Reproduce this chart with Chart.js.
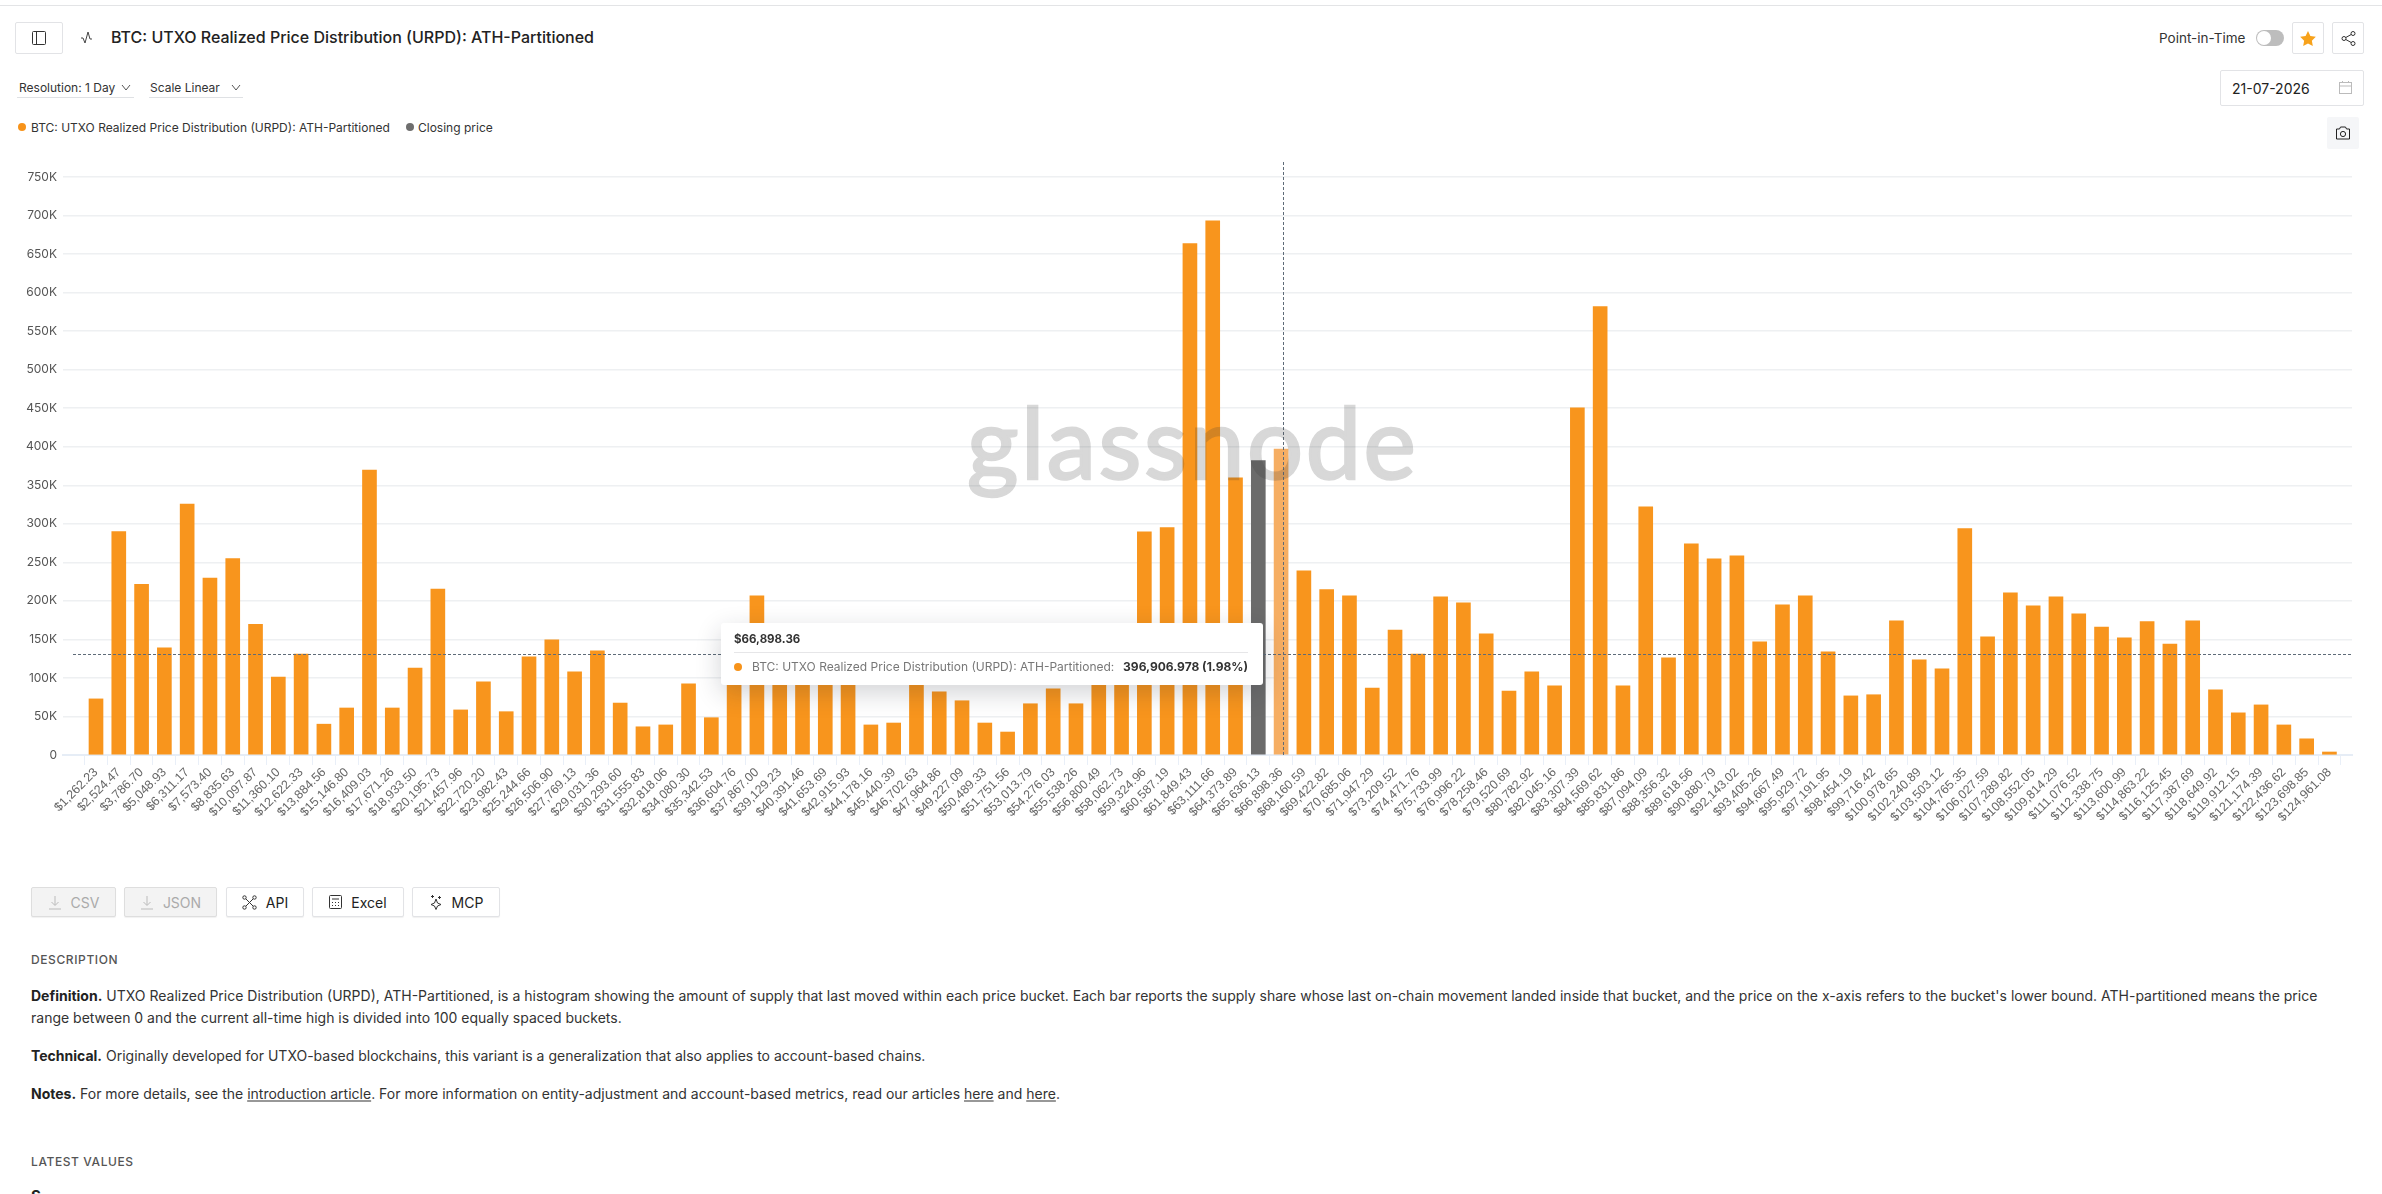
<!DOCTYPE html>
<html>
<head>
<meta charset="utf-8">
<title>BTC: UTXO Realized Price Distribution (URPD): ATH-Partitioned</title>
<script src="https://cdn.jsdelivr.net/npm/chart.js@4/dist/chart.umd.min.js"></script>
<style>
  html, body { margin: 0; padding: 0; background: #fff; overflow: hidden; }
  body { width: 2382px; height: 1194px; position: relative; font-family: Inter, sans-serif; color: #222; }
  .abs { position: absolute; white-space: nowrap; }
  .box { position: absolute; box-sizing: border-box; border: 1px solid #e2e3e6; border-radius: 2px; background: #fff; display: flex; align-items: center; justify-content: center; }
  .box svg { display: block; }
  .btn { top: 887px; height: 30px; font-size: 14px; gap: 9px; color: #222; box-shadow: 0 1px 1px rgba(0,0,0,.06); }
  .btn.off { background: #f3f3f3; color: #aaa; border-color: #dedede; }
  .dd { font-size: 12px; color: #333; transform: translateY(-50%); }
  .line { height: 1px; background: #dfe1e4; }
  .chev { position: absolute; }
  .legend { font-size: 12px; color: #333; transform: translateY(-50%); }
  .dot { position: absolute; width: 8px; height: 8px; border-radius: 50%; }
  .head { font-size: 12px; letter-spacing: .6px; color: #555; font-weight: 500; transform: translateY(-50%); }
  .para { font-size: 14px; color: #333; left: 31px; transform: translateY(-50%); }
  .para b { font-weight: 700; color: #222; }
  .para u { text-underline-offset: 2px; }
  #wrap { position: absolute; left: 0; top: 140px; width: 2382px; height: 715px; }
  #mark { position: absolute; left: 967px; top: 381px; font-family: Lato, sans-serif; font-size: 99px; line-height: 120px; letter-spacing: 2.5px; color: #3c3c3c; -webkit-text-stroke: 2.5px #3c3c3c; opacity: .2; pointer-events: none; }
  #tip { position: absolute; left: 721px; top: 623px; width: 542px; height: 62px; background: #fff; border-radius: 3px; box-shadow: 0 8px 26px rgba(30,35,50,.2); }
  #tipTitle { position: absolute; left: 13px; top: 16px; line-height: 0; font-size: 11.5px; font-weight: 700; color: #333; }
  #tipRule { position: absolute; left: 13px; right: 15px; top: 29px; height: 1px; background: #e6e6e8; }
  #tipName { position: absolute; left: 31px; top: 44px; line-height: 0; font-size: 12px; color: #777; white-space: nowrap; }
  #tipValue { position: absolute; right: 15px; top: 44px; line-height: 0; font-size: 12px; font-weight: 700; color: #333; white-space: nowrap; }
</style>
</head>
<body>

<div class="abs" style="left:0;top:5px;width:2382px;height:1px;background:#e3e4e6"></div>

<!-- header row -->
<div class="box" style="left:15px;top:22px;width:48px;height:32px">
  <svg width="14" height="14" viewBox="0 0 14 14" fill="none" stroke="#333"><rect x=".5" y=".5" width="13" height="13" rx="1"/><path d="M4.5 .5v13"/></svg>
</div>
<svg class="abs" style="left:80px;top:30px" width="15" height="15" viewBox="0 0 15 15" fill="none" stroke="#444"><path d="M1 8h2l2 5 3-11 2 7h2"/></svg>
<div class="abs" id="title" style="left:111px;top:37px;transform:translateY(-50%);font-size:16px;font-weight:500;color:#222">BTC: UTXO Realized Price Distribution (URPD): ATH-Partitioned</div>

<div class="abs" style="left:2159px;top:38px;transform:translateY(-50%);font-size:13.5px;color:#333">Point-in-Time</div>
<div class="abs" style="left:2256px;top:30px;width:28px;height:16px;border-radius:8px;background:#bdbdbd"></div>
<div class="abs" style="left:2257px;top:31px;width:14px;height:14px;border-radius:50%;background:#fff"></div>
<div class="box" style="left:2292px;top:22px;width:32px;height:32px">
  <svg width="16" height="15" viewBox="0 0 24 23" fill="#f7a21b"><path d="M12 0l3.7 7.8 8.3 1.1-6.1 5.9 1.5 8.2L12 19l-7.4 4 1.5-8.2L0 8.9l8.3-1.1z"/></svg>
</div>
<div class="box" style="left:2332px;top:22px;width:32px;height:32px">
  <svg width="15" height="15" viewBox="0 0 15 15" fill="none" stroke="#333"><circle cx="3" cy="7.5" r="2"/><circle cx="12" cy="2.5" r="2"/><circle cx="12" cy="12.5" r="2"/><path d="M4.8 6.5l5.4-3M4.8 8.5l5.4 3"/></svg>
</div>

<!-- controls -->
<div class="abs dd" style="left:19px;top:87px">Resolution: 1 Day</div>
<svg class="chev" style="left:121px;top:84px" width="10" height="7" viewBox="0 0 10 7" fill="none" stroke="#555"><path d="M1 1l4 5 4-5"/></svg>
<div class="abs line" style="left:17px;top:97px;width:117px"></div>
<div class="abs dd" style="left:150px;top:87px">Scale Linear</div>
<svg class="chev" style="left:231px;top:84px" width="10" height="7" viewBox="0 0 10 7" fill="none" stroke="#555"><path d="M1 1l4 5 4-5"/></svg>
<div class="abs line" style="left:149px;top:97px;width:94px"></div>

<div class="box" style="left:2220px;top:70px;width:144px;height:36px;justify-content:flex-start;padding-left:11px;font-size:14px;color:#222">21-07-2026</div>
<svg class="abs" style="left:2339px;top:81px" width="13" height="13" viewBox="0 0 13 13" fill="none" stroke="#bbb"><rect x=".5" y="1.5" width="12" height="11"/><path d="M.5 5h12M3.5 0v2M9.5 0v2"/></svg>
<div class="abs" style="left:2327px;top:117px;width:32px;height:32px;background:#f5f6f8;border-radius:2px"></div>
<svg class="abs" style="left:2336px;top:126px" width="14" height="14" viewBox="0 0 14 14" fill="none" stroke="#222"><path d="M.5 3h3l1-2h5l1 2h3v10H.5z"/><circle cx="7" cy="8" r="2.6"/></svg>

<!-- legend -->
<div class="dot" style="left:18px;top:123px;background:#f7931a"></div>
<div class="abs legend" style="left:31px;top:127px">BTC: UTXO Realized Price Distribution (URPD): ATH-Partitioned</div>
<div class="dot" style="left:406px;top:123px;background:#6e6e6e"></div>
<div class="abs legend" style="left:418px;top:127px">Closing price</div>

<div id="wrap"><canvas id="urpd"></canvas></div>

<div id="mark">glassnode</div>

<div id="tip">
  <div id="tipTitle"></div>
  <div id="tipRule"></div>
  <div class="dot" style="left:13px;top:40px;background:#f7931a"></div>
  <div id="tipName">BTC: UTXO Realized Price Distribution (URPD): ATH-Partitioned:</div>
  <div id="tipValue"></div>
</div>

<!-- export buttons -->
<div class="box btn off" style="left:31px;width:85px">
  <svg width="14" height="15" viewBox="0 0 14 15" fill="none" stroke="#bbb"><path d="M7 1v9M3.5 7L7 10.500 10.500 7M1 14h12"/></svg>CSV</div>
<div class="box btn off" style="left:124px;width:93px">
  <svg width="14" height="15" viewBox="0 0 14 15" fill="none" stroke="#bbb"><path d="M7 1v9M3.5 7L7 10.500 10.500 7M1 14h12"/></svg>JSON</div>
<div class="box btn" style="left:226px;width:78px">
  <svg width="15" height="15" viewBox="0 0 15 15" fill="none" stroke="#333"><circle cx="2.500" cy="2.500" r="1.700"/><circle cx="12.500" cy="2.500" r="1.700"/><circle cx="2.500" cy="12.500" r="1.700"/><circle cx="12.500" cy="12.500" r="1.700"/><path d="M4 4l7 7M11 4l-7 7"/></svg>API</div>
<div class="box btn" style="left:312px;width:92px">
  <svg width="13" height="14" viewBox="0 0 13 14" fill="none" stroke="#333"><rect x=".5" y=".5" width="12" height="13" rx="1"/><path d="M3 4h7M3 7.500h1M6 7.500h1M9 7.500h1M3 10.500h1M6 10.500h1M9 10.500h1"/></svg>Excel</div>
<div class="box btn" style="left:412px;width:88px">
  <svg width="14" height="16" viewBox="0 0 14 16" fill="none" stroke="#333"><path d="M7 5l1.500 4L12 10.500 8.500 12 7 15.500 5.500 12 2 10.500 5.500 9zM3.500 1v3M2 2.500h3M10.500 2v3M9 3.500h3"/></svg>MCP</div>

<!-- description -->
<div class="abs head" style="left:31px;top:959px">DESCRIPTION</div>
<div class="abs para" style="top:995px"><b>Definition.</b> UTXO Realized Price Distribution (URPD), ATH-Partitioned, is a histogram showing the amount of supply that last moved within each price bucket. Each bar reports the supply share whose last on-chain movement landed inside that bucket, and the price on the x-axis refers to the bucket's lower bound. ATH-partitioned means the price</div>
<div class="abs para" style="top:1017px">range between 0 and the current all-time high is divided into 100 equally spaced buckets.</div>
<div class="abs para" style="top:1055px"><b>Technical.</b> Originally developed for UTXO-based blockchains, this variant is a generalization that also applies to account-based chains.</div>
<div class="abs para" style="top:1093px"><b>Notes.</b> For more details, see the <u>introduction article</u>. For more information on entity-adjustment and account-based metrics, read our articles <u>here</u> and <u>here</u>.</div>
<div class="abs head" style="left:31px;top:1161px">LATEST VALUES</div>
<div class="abs" style="left:31px;top:1186px;font-size:15px;font-weight:700;color:#222">S</div>

<script>
// lower bound of each price bucket
const priceLabels = [
  "$1,262.23","$2,524.47","$3,786.70","$5,048.93","$6,311.17","$7,573.40","$8,835.63","$10,097.87","$11,360.10","$12,622.33",
  "$13,884.56","$15,146.80","$16,409.03","$17,671.26","$18,933.50","$20,195.73","$21,457.96","$22,720.20","$23,982.43","$25,244.66",
  "$26,506.90","$27,769.13","$29,031.36","$30,293.60","$31,555.83","$32,818.06","$34,080.30","$35,342.53","$36,604.76","$37,867.00",
  "$39,129.23","$40,391.46","$41,653.69","$42,915.93","$44,178.16","$45,440.39","$46,702.63","$47,964.86","$49,227.09","$50,489.33",
  "$51,751.56","$53,013.79","$54,276.03","$55,538.26","$56,800.49","$58,062.73","$59,324.96","$60,587.19","$61,849.43","$63,111.66",
  "$64,373.89","$65,636.13","$66,898.36","$68,160.59","$69,422.82","$70,685.06","$71,947.29","$73,209.52","$74,471.76","$75,733.99",
  "$76,996.22","$78,258.46","$79,520.69","$80,782.92","$82,045.16","$83,307.39","$84,569.62","$85,831.86","$87,094.09","$88,356.32",
  "$89,618.56","$90,880.79","$92,143.02","$93,405.26","$94,667.49","$95,929.72","$97,191.95","$98,454.19","$99,716.42","$100,978.65",
  "$102,240.89","$103,503.12","$104,765.35","$106,027.59","$107,289.82","$108,552.05","$109,814.29","$111,076.52","$112,338.75","$113,600.99",
  "$114,863.22","$116,125.45","$117,387.69","$118,649.92","$119,912.15","$121,174.39","$122,436.62","$123,698.85","$124,961.08"
];

// supply per bucket, BTC
const supply = [
  72800,290000,221500,139000,325600,229700,255000,169700,101000,130800,
  40000,61000,369700,61000,112800,215400,58500,94800,56200,127500,
  149500,108000,135300,67400,36600,39000,92300,48400,110000,206700,
  130000,115000,125000,105000,39000,41500,105000,82000,70400,41500,
  29800,66500,86000,66500,110000,115000,289700,295000,663500,693300,
  359600,382000,396906.978,239000,214500,206700,87000,162200,131000,205200,
  197400,157300,83000,108000,89900,450500,582000,89900,322000,126000,
  274000,254600,258500,147000,195000,206700,133900,76700,78200,174000,
  123600,111900,293700,153400,210600,193500,205200,183200,166100,152000,
  173000,144000,174000,84500,54700,65000,39000,21000,3900
];

const yTicks = [0,50000,100000,150000,200000,250000,300000,350000,400000,450000,500000,550000,600000,650000,700000,750000];

const closingIndex = 51;
const hoverIndex = 52;
const hoverShare = "1.98%";
const crosshairValue = 131000;

const barColors = supply.map((_, i) => {
  if (i === closingIndex) return "#6b6b6b";
  if (i === hoverIndex) return "#f6ae63";
  return "#f8951d";
});

// dashed crosshair through the hovered bucket
const crosshair = {
  id: "crosshair",
  afterDatasetsDraw(chart) {
    const { ctx, chartArea, scales } = chart;
    const x = Math.round(scales.x.getPixelForValue(hoverIndex + 0.08)) + 0.5;
    const y = Math.round(scales.y.getPixelForValue(crosshairValue)) + 0.5;
    ctx.save();
    ctx.strokeStyle = "#5e6b78";
    ctx.lineWidth = 1;
    ctx.setLineDash([3, 2]);
    ctx.beginPath();
    ctx.moveTo(x, chartArea.top);
    ctx.lineTo(x, chartArea.bottom);
    ctx.moveTo(chartArea.left + 10, y);
    ctx.lineTo(chartArea.right, y);
    ctx.stroke();
    ctx.restore();
  }
};

new Chart(document.getElementById("urpd"), {
  type: "bar",
  data: {
    datasets: [{
      data: supply.map((v, i) => ({ x: i, y: v })),
      backgroundColor: barColors,
      barThickness: 14
    }]
  },
  options: {
    responsive: true,
    maintainAspectRatio: false,
    animation: false,
    events: [],
    layout: { padding: { top: 22, right: 30, left: 0, bottom: 0 } },
    plugins: { legend: { display: false }, tooltip: { enabled: false } },
    scales: {
      x: {
        type: "linear",
        offset: false,
        min: -1.448,
        max: 98.99,
        afterBuildTicks: axis => { axis.ticks = priceLabels.map((_, i) => ({ value: i })); },
        afterFit: axis => { axis.height = 100; },
        grid: { drawOnChartArea: false, drawTicks: true, tickLength: 10, color: "#e9eff8" },
        border: { color: "#e6edf6", width: 2 },
        ticks: {
          autoSkip: false,
          minRotation: 45,
          maxRotation: 45,
          padding: 0,
          color: "#666",
          font: { family: "'Liberation Sans'", size: 12.5 },
          callback: v => priceLabels[v]
        }
      },
      y: {
        min: 0,
        max: 769500,
        afterBuildTicks: axis => { axis.ticks = yTicks.map(v => ({ value: v })); },
        afterFit: axis => { axis.width = 63; },
        grid: { drawTicks: false, color: "#eef0f2", lineWidth: 1.5 },
        border: { display: false },
        ticks: {
          padding: 6,
          color: "#555",
          font: { family: "Inter", size: 12 },
          callback: v => v === 0 ? "0" : v / 1000 + "K"
        }
      }
    }
  },
  plugins: [crosshair]
});

document.getElementById("tipTitle").textContent = priceLabels[hoverIndex];
document.getElementById("tipValue").textContent =
  supply[hoverIndex].toLocaleString("en-US", { minimumFractionDigits: 3 }) + " (" + hoverShare + ")";
</script>
</body>
</html>
